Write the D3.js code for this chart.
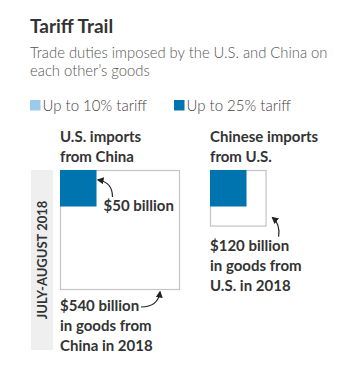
<!DOCTYPE html>
<html><head><meta charset="utf-8">
<script src="https://cdn.jsdelivr.net/npm/d3@7"></script>
<style>
html,body{margin:0;padding:0;background:#fff;}
svg{display:block;}
text{font-family:Lato, "Noto Sans", sans-serif;}
</style></head>
<body>
<svg id="chart" width="344" height="369"></svg>
<script>
// ---- data ----
const title = "Tariff Trail";
const subtitleLines = ["Trade duties imposed by the U.S. and China on", "each other\u2019s goods"];
const legendLabels = ["Up to 10% tariff", "Up to 25% tariff"];
const legendColors = ["#9acbec", "#0074ae"];
const categories = ["U.S. imports from China", "Chinese imports from U.S."];
const headerLines = [["U.S. imports", "from China"], ["Chinese imports", "from U.S."]];
const totals = [540, 120];          // $ billion of goods in 2018
const tariff10 = [0, 0];            // $ billion under up-to-10% tariff
const tariff25 = [50, 50];          // $ billion under up-to-25% tariff
const periods = ["JULY-AUGUST 2018"];
const totalLabels = [["$540 billion", "in goods from", "China in 2018"], ["$120 billion", "in goods from", "U.S. in 2018"]];
const tariffLabels = ["$50 billion", null];

// ---- drawing ----
const svg = d3.select("#chart");
const side = d3.scaleSqrt().domain([0, d3.max(totals)]).range([0, 120]);
const colX = d3.scaleOrdinal().domain(categories).range([60, 210]);
const top0 = 170;
const LBL = 15, LW = 700;

svg.append("text").attr("x", 30).attr("y", 33).attr("font-size", 19).attr("font-weight", 700)
  .attr("fill", "#333").text(title);
svg.selectAll("text.sub").data(subtitleLines).join("text").attr("class", "sub")
  .attr("x", 30).attr("y", (d, i) => 58 + i * 18).attr("font-size", 14.8).attr("font-weight", 300)
  .attr("fill", "#555").text(d => d);

const leg = svg.selectAll("g.leg").data(legendLabels).join("g").attr("class", "leg")
  .attr("transform", (d, i) => `translate(${30 + i * 144},100)`);
leg.append("rect").attr("width", 10.5).attr("height", 10.5).attr("fill", (d, i) => legendColors[i]);
leg.append("text").attr("x", 12.5).attr("y", 10.7).attr("font-size", 15).attr("font-weight", 300)
  .attr("fill", "#444").text(d => d);

// period band
svg.append("rect").attr("x", 31).attr("y", top0).attr("width", 22).attr("height", 180).attr("fill", "#efefef");
svg.append("text").attr("transform", `translate(47,${top0 + 90}) rotate(-90)`).attr("text-anchor", "middle")
  .attr("font-size", 13).attr("font-weight", LW).attr("fill", "#333").text(periods[0]);

// arrow marker
svg.append("defs").append("marker").attr("id", "ah").attr("viewBox", "0 0 10 10").attr("refX", 8).attr("refY", 5)
  .attr("markerWidth", 7).attr("markerHeight", 7).attr("orient", "auto-start-reverse").attr("markerUnits", "userSpaceOnUse")
  .append("path").attr("d", "M0,0L10,5L0,10z").attr("fill", "#222");

categories.forEach((c, i) => {
  const x = colX(c);
  const s = side(totals[i]);
  const g = svg.append("g");
  g.selectAll("text.h").data(headerLines[i]).join("text").attr("x", x).attr("y", (d, j) => 142 + j * 20)
    .attr("font-size", LBL).attr("font-weight", LW).attr("fill", "#333").text(d => d);
  g.append("rect").attr("x", x + 0.5).attr("y", top0 + 0.5).attr("width", s - 1).attr("height", s - 1)
    .attr("fill", "#fff").attr("stroke", "#c4c4c4").attr("stroke-width", 1.2);
  const s10 = side(tariff10[i] + tariff25[i]);
  if (tariff10[i] > 0) g.append("rect").attr("x", x).attr("y", top0).attr("width", s10).attr("height", s10).attr("fill", legendColors[0]);
  const s25 = side(tariff25[i]);
  g.append("rect").attr("x", x).attr("y", top0).attr("width", s25).attr("height", s25).attr("fill", legendColors[1]);
  if (tariffLabels[i]) {
    g.append("text").attr("x", x + s25 + 7).attr("y", top0 + 41).attr("font-size", LBL).attr("font-weight", LW)
      .attr("fill", "#333").text(tariffLabels[i]);
    g.append("path").attr("d", `M${x + s25 + 16},${top0 + 27} Q${x + s25 + 16},${top0 + 12} ${x + s25 + 1.5},${top0 + 10}`)
      .attr("fill", "none").attr("stroke", "#222").attr("stroke-width", 1.2).attr("marker-end", "url(#ah)");
  }
  const ly = i === 0 ? top0 + s + 21 : top0 + s + 24;
  g.selectAll("text.t").data(totalLabels[i]).join("text").attr("x", x).attr("y", (d, j) => ly + j * 20)
    .attr("font-size", LBL).attr("font-weight", LW).attr("fill", "#333").text(d => d);
  if (i === 0) {
    g.append("path").attr("d", `M${x + 81},${top0 + s + 17} Q${x + 98},${top0 + s + 17} ${x + 100},${top0 + s + 2}`)
      .attr("fill", "none").attr("stroke", "#222").attr("stroke-width", 1.2).attr("marker-end", "url(#ah)");
  } else {
    g.append("path").attr("d", `M${x + s + 12},${top0 + s + 10} Q${x + s + 14},${top0 + s - 2} ${x + s + 6},${top0 + s - 9}`)
      .attr("fill", "none").attr("stroke", "#222").attr("stroke-width", 1.2).attr("marker-end", "url(#ah)");
  }
});
</script>
</body></html>
